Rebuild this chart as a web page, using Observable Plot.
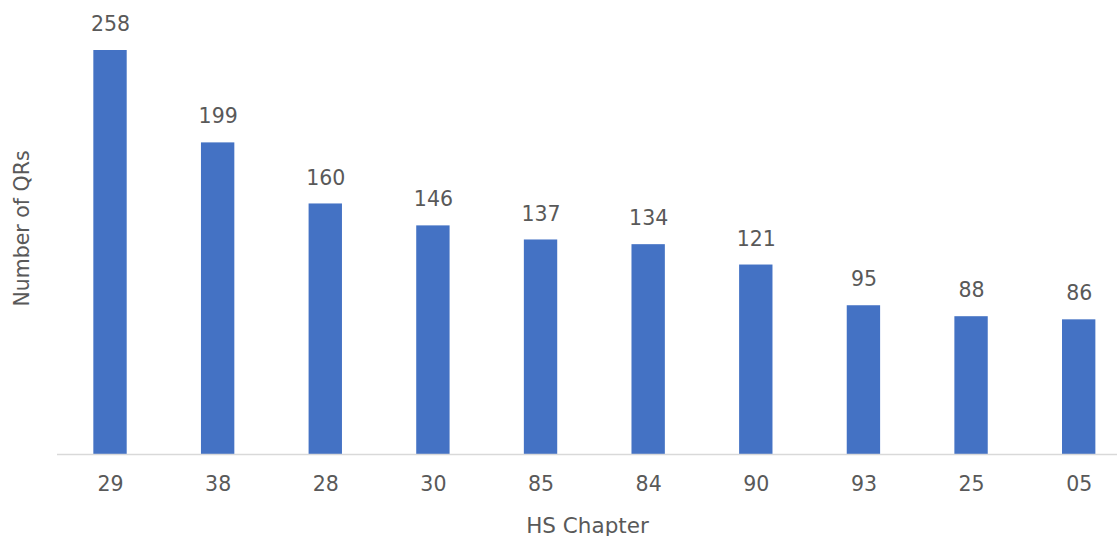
<!DOCTYPE html>
<html>
<head>
<meta charset="utf-8">
<script src="https://cdn.jsdelivr.net/npm/d3@7"></script>
<script src="https://cdn.jsdelivr.net/npm/@observablehq/plot@0.6"></script>
<style>
  html, body { margin: 0; padding: 0; background: #fff; }
  #chart svg { display: block; }
</style>
</head>
<body>
<div id="chart"></div>
<script>
const chapters = ["29", "38", "28", "30", "85", "84", "90", "93", "25", "05"];
const counts = [258, 199, 160, 146, 137, 134, 121, 95, 88, 86];
const xLabel = "HS Chapter";
const yLabel = "Number of QRs";

const data = chapters.map((c, i) => ({chapter: c, count: counts[i]}));
const font = "DejaVu Sans, Verdana, sans-serif";
const textColor = "#595959";
const fs = 20.5;

const chart = Plot.plot({
  width: 1117,
  height: 536,
  marginLeft: 57,
  marginRight: 0,
  marginTop: 2,
  marginBottom: 82,
  style: {fontFamily: font, fontSize: fs + "px", color: textColor, background: "#fff"},
  x: {domain: chapters, range: [56.2, 1132.5], paddingInner: 0.69, paddingOuter: 0.345, round: false, label: null},
  y: {domain: [0, 258], range: [454, 50], axis: null},
  marks: [
    Plot.barY(data, {x: "chapter", y: "count", fill: "#4472C4"}),
    Plot.ruleY([0], {stroke: "#D9D9D9", strokeWidth: 1.5}),
    Plot.text(data, {x: "chapter", y: "count", text: d => String(d.count), dy: -26, fill: textColor, fontSize: fs}),
    Plot.axisX({tickSize: 0, tickPadding: 22, fontSize: fs, fill: textColor, label: null}),
    Plot.text([xLabel], {frameAnchor: "bottom", dy: 78, fill: textColor, fontSize: 21.5}),
    Plot.text([yLabel], {frameAnchor: "left", textAnchor: "middle", dx: -35, rotate: -90, fill: textColor, fontSize: fs})
  ]
});
document.getElementById("chart").appendChild(chart);
</script>
</body>
</html>
